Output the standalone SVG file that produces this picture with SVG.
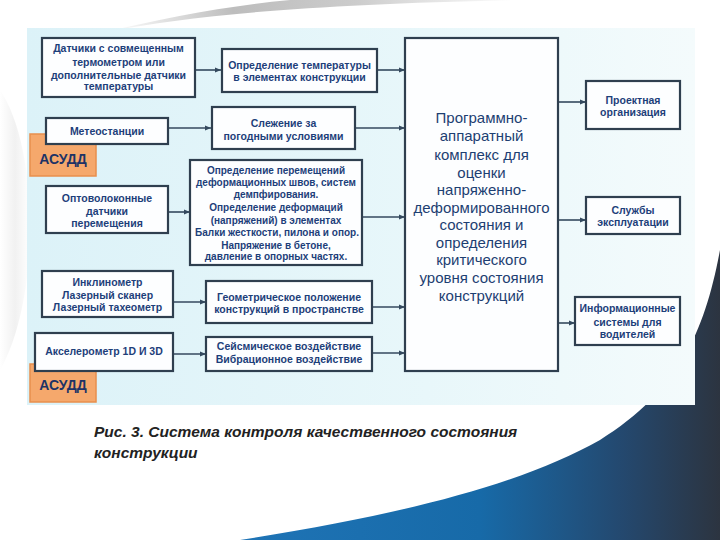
<svg xmlns="http://www.w3.org/2000/svg" width="720" height="540" viewBox="0 0 720 540">
<defs>
<linearGradient id="panelG" x1="0" y1="0" x2="1" y2="0">
<stop offset="0" stop-color="#dcf2f8"/>
<stop offset="0.6" stop-color="#e8f7fa"/>
<stop offset="1" stop-color="#f4fbfc"/>
</linearGradient>
<linearGradient id="darkG" x1="240" y1="0" x2="720" y2="0" gradientUnits="userSpaceOnUse">
<stop offset="0" stop-color="#1f74b6"/>
<stop offset="0.5" stop-color="#176aa8"/>
<stop offset="0.8" stop-color="#24486e"/>
<stop offset="1" stop-color="#2c3440"/>
</linearGradient>
<linearGradient id="grayG" x1="110" y1="0" x2="520" y2="0" gradientUnits="userSpaceOnUse">
<stop offset="0" stop-color="#ffffff"/>
<stop offset="0.3" stop-color="#bdbdbd"/>
<stop offset="0.6" stop-color="#cccccc"/>
<stop offset="1" stop-color="#ffffff"/>
</linearGradient>
<linearGradient id="leftG" x1="0" y1="0" x2="1" y2="0">
<stop offset="0" stop-color="#ffffff"/>
<stop offset="0.5" stop-color="#ebebeb"/>
<stop offset="1" stop-color="#ffffff"/>
</linearGradient>
<marker id="ah" viewBox="0 0 10 10" refX="10" refY="5" markerWidth="6" markerHeight="6" markerUnits="userSpaceOnUse" orient="auto">
<path d="M0,1 L10,5 L0,9 Z" fill="#34495e"/>
</marker>
<style>
.box{fill:#fdfeff;stroke:#2f3f4f;stroke-width:2.2}
.asudd{fill:#f5a86c;stroke:#e88f4c;stroke-width:1.5}
.t{font-family:"Liberation Sans",Arial,sans-serif;font-weight:bold;font-size:10.5px;fill:#1d3f7a;text-anchor:middle}
.s{font-size:10px}
.tb{font-family:"Liberation Sans",Arial,sans-serif;font-size:15px;fill:#1d3f72;text-anchor:middle}
.ta{font-family:"Liberation Sans",Arial,sans-serif;font-weight:bold;font-size:14px;fill:#1d3366;text-anchor:middle}
.cap{font-family:"Liberation Sans",Arial,sans-serif;font-weight:bold;font-style:italic;font-size:15.5px;fill:#222222}
.c line{stroke:#34495e;stroke-width:1.6;marker-end:url(#ah)}
</style>
</defs>
<rect x="0" y="0" width="720" height="540" fill="#ffffff"/>
<path d="M105,32 C200,14 320,4 520,0 L290,0 C225,6 165,18 105,32 Z" fill="url(#grayG)"/>
<path d="M0,90 C40,150 40,300 0,370 Z" fill="url(#leftG)" opacity="0.7"/>
<path d="M720,250 C705,330 680,390 600,440 C520,485 400,515 240,540 L720,540 Z" fill="url(#darkG)"/>
<rect x="27" y="28" width="668" height="377" fill="url(#panelG)"/>

<g class="c">
<line x1="195" y1="70" x2="221" y2="70"/>
<line x1="377" y1="70" x2="405" y2="70"/>
<line x1="168" y1="128" x2="211" y2="128"/>
<line x1="355" y1="128" x2="405" y2="128"/>
<line x1="168" y1="212" x2="190" y2="212"/>
<line x1="362" y1="217" x2="405" y2="217"/>
<line x1="173" y1="302" x2="206" y2="302"/>
<line x1="372" y1="307" x2="405" y2="307"/>
<line x1="173" y1="354" x2="206" y2="354"/>
<line x1="372" y1="353" x2="405" y2="353"/>
<line x1="558" y1="102" x2="586" y2="102"/>
<line x1="558" y1="220" x2="586" y2="220"/>
<line x1="558" y1="323" x2="575" y2="323"/>
</g>

<g id="asudd1">
<rect class="asudd" x="30" y="134" width="66" height="42"/>
<text class="ta" x="63" y="164">АСУДД</text>
</g>
<g id="asudd2">
<rect class="asudd" x="30" y="364" width="66" height="38"/>
<text class="ta" x="63" y="390">АСУДД</text>
</g>

<g id="sensors-temp">
<rect class="box" x="42" y="38" width="153" height="59"/>
<text class="t" x="118.5" y="51.5">Датчики с совмещенным</text>
<text class="t" x="118.5" y="66">термометром или</text>
<text class="t" x="118.5" y="78.5">дополнительные датчики</text>
<text class="t" x="118.5" y="90">температуры</text>
</g>
<g id="temp-def">
<rect class="box" x="222" y="49" width="155" height="43"/>
<text class="t" x="299.5" y="68.5">Определение температуры</text>
<text class="t" x="299.5" y="81">в элементах конструкции</text>
</g>
<g id="meteo">
<rect class="box" x="46" y="118" width="122" height="26"/>
<text class="t" x="107" y="135">Метеостанции</text>
</g>
<g id="weather">
<rect class="box" x="212" y="107" width="143" height="42"/>
<text class="t" x="283.5" y="126.5">Слежение за</text>
<text class="t" x="283.5" y="139.5">погодными условиями</text>
</g>
<g id="fiber">
<rect class="box" x="46" y="186" width="122" height="47"/>
<text class="t" x="107" y="201.5">Оптоволоконные</text>
<text class="t" x="107" y="214.5">датчики</text>
<text class="t" x="107" y="226.5">перемещения</text>
</g>
<g id="displacement">
<rect class="box" x="190" y="160" width="172" height="105"/>
<text class="t s" x="276" y="173.5">Определение перемещений</text>
<text class="t s" x="276" y="185.8">деформационных швов, систем</text>
<text class="t s" x="276" y="198">демпфирования.</text>
<text class="t s" x="276" y="210.5">Определение   деформаций</text>
<text class="t s" x="276" y="224">(напряжений) в элементах</text>
<text class="t s" x="277" y="235.5">Балки жесткости, пилона и опор.</text>
<text class="t s" x="276" y="248.5">Напряжение в бетоне,</text>
<text class="t s" x="276" y="260">давление в опорных частях.</text>
</g>
<g id="inclinometer">
<rect class="box" x="42" y="271" width="131" height="46"/>
<text class="t" x="107.5" y="286">Инклинометр</text>
<text class="t" x="107.5" y="299">Лазерный сканер</text>
<text class="t" x="107.5" y="310.5">Лазерный тахеометр</text>
</g>
<g id="geometry">
<rect class="box" x="206" y="281" width="166" height="42"/>
<text class="t" x="289" y="300.5">Геометрическое положение</text>
<text class="t" x="289" y="312.8">конструкций в пространстве</text>
</g>
<g id="accel">
<rect class="box" x="35" y="333" width="138" height="38"/>
<text class="t" x="104" y="354.5">Акселерометр 1D И 3D</text>
</g>
<g id="seismic">
<rect class="box" x="206" y="337" width="166" height="34"/>
<text class="t" x="289" y="350">Сейсмическое воздействие</text>
<text class="t" x="289" y="362.5">Вибрационное воздействие</text>
</g>

<g id="complex">
<rect class="box" x="405" y="38" width="153" height="333"/>
<text class="tb" x="481.5" y="122.5">Программно-</text>
<text class="tb" x="481.5" y="141">аппаратный</text>
<text class="tb" x="481.5" y="159.5">комплекс для</text>
<text class="tb" x="481.5" y="177.5">оценки</text>
<text class="tb" x="481.5" y="194.5">напряженно-</text>
<text class="tb" x="481.5" y="212.5">деформированного</text>
<text class="tb" x="481.5" y="230">состояния и</text>
<text class="tb" x="481.5" y="248">определения</text>
<text class="tb" x="481.5" y="265">критического</text>
<text class="tb" x="481.5" y="282.5">уровня состояния</text>
<text class="tb" x="481.5" y="300.5">конструкций</text>
</g>

<g id="design-org">
<rect class="box" x="586" y="81" width="94" height="48"/>
<text class="t" x="633" y="104">Проектная</text>
<text class="t" x="633" y="116">организация</text>
</g>
<g id="operation">
<rect class="box" x="586" y="197" width="94" height="37"/>
<text class="t" x="633" y="213.5">Службы</text>
<text class="t" x="633" y="226">эксплуатации</text>
</g>
<g id="info-sys">
<rect class="box" x="575" y="297" width="105" height="48"/>
<text class="t" x="627.5" y="312">Информационные</text>
<text class="t" x="627.5" y="325.5">системы для</text>
<text class="t" x="627.5" y="338">водителей</text>
</g>

<text class="cap" x="94" y="437">Рис. 3. Система контроля качественного состояния</text>
<text class="cap" x="94" y="458">конструкции</text>
</svg>
